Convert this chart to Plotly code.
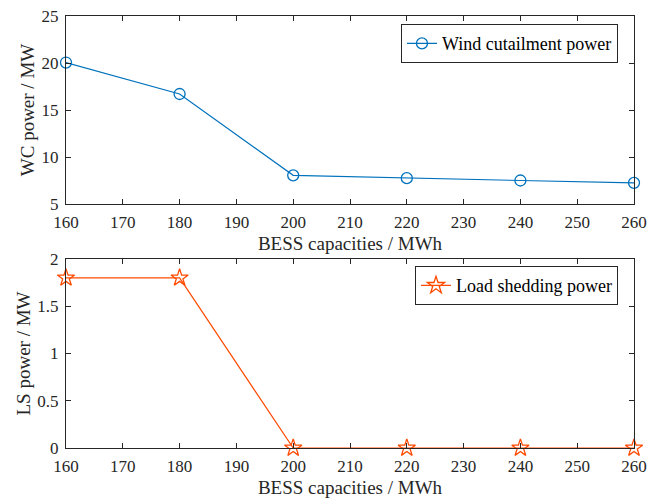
import plotly.graph_objects as go
from plotly.subplots import make_subplots

capacities = [160, 180, 200, 220, 240, 260]
wc_power = [20.05, 16.7, 8.05, 7.75, 7.5, 7.25]
ls_power = [1.8, 1.8, 0, 0, 0, 0]
x_ticks = [160, 170, 180, 190, 200, 210, 220, 230, 240, 250, 260]

FONT = "Liberation Serif"
BLUE = "#0072BD"
ORANGE = "#FF4A00"
TXT = "#262626"
TICK_SIZE = 17
TITLE_SIZE = 19

fig = make_subplots(rows=2, cols=1, vertical_spacing=0.1)

fig.add_trace(go.Scatter(
    x=capacities, y=wc_power, mode="lines+markers", name="Wind cutailment power",
    line=dict(color=BLUE, width=1.2),
    marker=dict(symbol="circle-open", size=11, color=BLUE, line=dict(width=1.3)),
    legend="legend", cliponaxis=False), row=1, col=1)

fig.add_trace(go.Scatter(
    x=capacities, y=ls_power, mode="lines+markers", name="Load shedding power",
    line=dict(color=ORANGE, width=1.2),
    marker=dict(symbol="star-open", size=13, color=ORANGE, line=dict(width=1.3)),
    legend="legend2", cliponaxis=False), row=2, col=1)

axis_common = dict(
    showline=True, linecolor=TXT, linewidth=1, mirror="ticks",
    ticks="inside", ticklen=5, tickcolor=TXT, showgrid=False, zeroline=False,
    tickfont=dict(family=FONT, size=TICK_SIZE, color=TXT), automargin=False,
)

fig.update_xaxes(**axis_common, range=[160, 260], tickvals=x_ticks, ticklabelstandoff=3,
                 title=dict(text="BESS capacities / MWh", font=dict(family=FONT, size=TITLE_SIZE, color=TXT), standoff=5))
fig.update_yaxes(**axis_common, ticklabelstandoff=3)
fig.update_yaxes(range=[5, 25], tickvals=[5, 10, 15, 20, 25],
                 title=dict(text="WC power / MW", font=dict(family=FONT, size=TITLE_SIZE, color=TXT), standoff=1),
                 domain=[0.5648, 1.0], row=1, col=1)
fig.update_yaxes(range=[0, 2], tickvals=[0, 0.5, 1, 1.5, 2],
                 title=dict(text="LS power / MW", font=dict(family=FONT, size=TITLE_SIZE, color=TXT), standoff=1),
                 domain=[0.0, 0.4375], row=2, col=1)

legend_common = dict(
    bgcolor="white", bordercolor=TXT, borderwidth=1,
    font=dict(family=FONT, size=18, color="black"),
    xanchor="right", yanchor="top", xref="paper", yref="paper",
    tracegroupgap=0,
)

fig.update_layout(
    width=647, height=501,
    margin=dict(l=66, r=13, t=16, b=53, autoexpand=False),
    plot_bgcolor="white", paper_bgcolor="white",
    font=dict(family=FONT, size=TICK_SIZE, color=TXT),
    showlegend=True,
    legend=dict(**legend_common, x=0.9718, y=0.981),
    legend2=dict(**legend_common, x=0.9718, y=0.421),
)

fig.write_html("out.html", config={"displayModeBar": False},
               post_script="document.body.style.margin='0';document.body.style.overflow='hidden';")
